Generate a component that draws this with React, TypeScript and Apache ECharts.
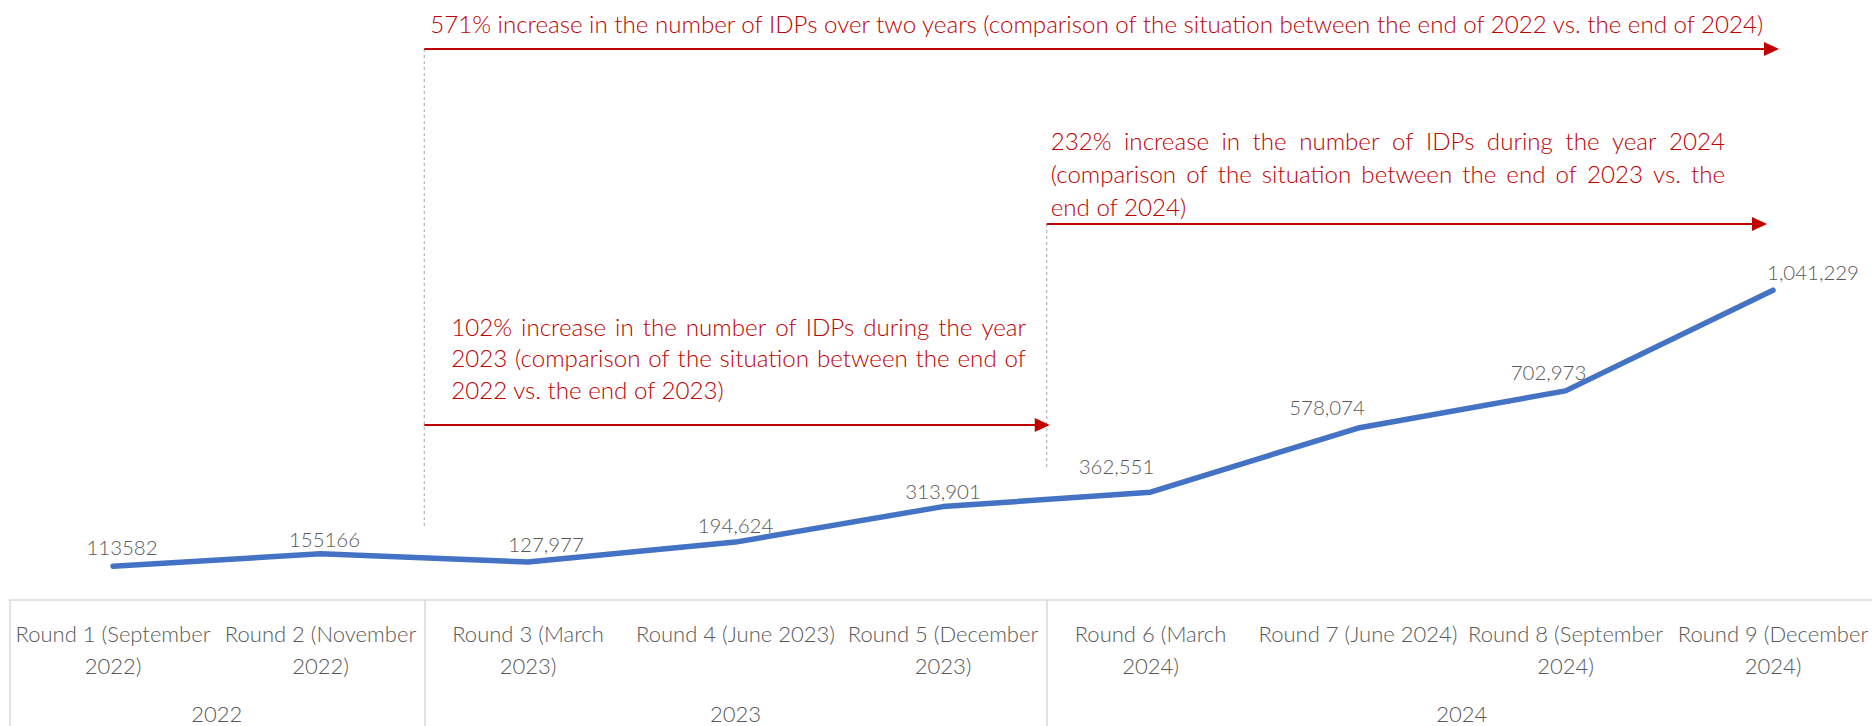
import React, { useEffect, useRef } from 'react';
import * as echarts from 'echarts';

const categories = [
  'Round 1 (September 2022)',
  'Round 2 (November 2022)',
  'Round 3 (March 2023)',
  'Round 4 (June 2023)',
  'Round 5 (December 2023)',
  'Round 6 (March 2024)',
  'Round 7 (June 2024)',
  'Round 8 (September 2024)',
  'Round 9 (December 2024)',
];
const idps = [113582, 155166, 127977, 194624, 313901, 362551, 578074, 702973, 1041229];
const valueLabels = ['113582', '155166', '127,977', '194,624', '313,901', '362,551', '578,074', '702,973', '1,041,229'];
const years = ['2022', '2023', '2024'];
const roundsPerYear = [2, 3, 4];

const noteTwoYears =
  '571% increase in the number of IDPs over two years (comparison of the situation between the end of 2022 vs. the end of 2024)';
const note2024 = [
  '232% increase in the number of IDPs during the year 2024',
  '(comparison of the situation between the end of 2023 vs. the',
  'end of 2024)',
];
const note2023 = [
  '102% increase in the number of IDPs during the year',
  '2023 (comparison of the situation between the end of',
  '2022 vs. the end of 2023)',
];

// label nudges (layout only)
const labelNudges = [
  [9, -3], [4, 1], [18, -2], [0, -1], [0, 0], [-34, -10], [-31, -5], [-17, -3], [40, -2],
];

const FONT = 'Lato';
const WEIGHT = 300;
const RED = '#C00000';
const GRAY = '#595959';
const LINE_GRAY = '#D9D9D9';

let ctx: CanvasRenderingContext2D | null = null;
const measure = (t: string, size: number) => {
  if (!ctx) ctx = document.createElement('canvas').getContext('2d');
  ctx!.font = `${WEIGHT} ${size}px ${FONT}`;
  return ctx!.measureText(t).width;
};
const fitSize = (t: string, w: number) => (100 * w) / measure(t, 100);

export default function App() {
  const ref = useRef<HTMLDivElement>(null);
  useEffect(() => {
    const chart = echarts.init(ref.current!, null, { renderer: 'svg' });
    const catSize = fitSize('Round 1 (September', 195);
    const valSize = fitSize('1,041,229', 92);
    const noteSize = fitSize(noteTwoYears, 1338);

    // year axis: half-band positions
    const nHalf = categories.length * 2;
    const yearData: string[] = new Array(nHalf + 1).fill('');
    const yearBounds: number[] = [0];
    let s = 0;
    years.forEach((y, i) => {
      yearData[s * 2 + roundsPerYear[i]] = y;
      s += roundsPerYear[i];
      yearBounds.push(s * 2);
    });

    const gridRect = { left: 9.25, top: 243, width: 1867.5, height: 357, outerBoundsMode: 'none' };

    chart.setOption({
      animation: false,
      grid: [gridRect, gridRect],
      xAxis: [
        {
          type: 'category',
          gridIndex: 0,
          data: categories,
          boundaryGap: true,
          axisLine: { show: false },
          axisTick: { show: false },
          axisLabel: {
            interval: 0,
            margin: 17,
            color: GRAY,
            fontFamily: FONT,
            fontWeight: WEIGHT,
            fontSize: catSize,
            lineHeight: 32,
            formatter: (v: string) => (measure(v, catSize) > 200 ? v.replace(/ (\S+)$/, '\n$1') : v),
          },
        },
        {
          type: 'category',
          gridIndex: 1,
          data: yearData,
          boundaryGap: false,
          axisLine: { show: true, lineStyle: { color: LINE_GRAY, width: 1.5 } },
          axisTick: {
            show: true,
            length: 140,
            interval: (idx: number) => yearBounds.includes(idx),
            lineStyle: { color: LINE_GRAY, width: 1.5 },
          },
          axisLabel: {
            interval: 0,
            margin: 97,
            color: GRAY,
            fontFamily: FONT,
            fontWeight: WEIGHT,
            fontSize: catSize,
            lineHeight: 32,
          },
        },
      ],
      yAxis: [
        { type: 'value', gridIndex: 0, min: 0, max: 1200000, show: false },
        { type: 'value', gridIndex: 1, min: 0, max: 1, show: false },
      ],
      series: [
        {
          type: 'line',
          xAxisIndex: 0,
          yAxisIndex: 0,
          data: idps.map((v, i) => ({ value: v, label: { offset: labelNudges[i] } })),
          symbol: 'circle',
          symbolSize: 0,
          showSymbol: true,
          itemStyle: { color: '#4472C4' },
          lineStyle: { color: '#4472C4', width: 5.5, cap: 'round', join: 'round' },
          label: {
            show: true,
            position: 'top',
            distance: 6,
            color: GRAY,
            fontFamily: FONT,
            fontWeight: WEIGHT,
            fontSize: valSize,
            formatter: (p: any) => valueLabels[p.dataIndex],
          },
        },
      ],
    });

    // annotation geometry from the axes
    const xAt = (half: number) => chart.convertToPixel({ xAxisIndex: 1 }, half) as number;
    const bound2023 = xAt(yearBounds[1]);
    const bound2024 = xAt(yearBounds[2]);
    const lastX = chart.convertToPixel({ xAxisIndex: 0 }, categories.length - 1) as number;

    const yTop = 49;
    const yMid = 224;
    const yLow = 425;

    const graphics: any[] = [];
    const dashed = (x: number, y1: number, y2: number) =>
      graphics.push({
        type: 'line',
        shape: { x1: x, y1, x2: x, y2 },
        style: { stroke: '#A6A6A6', lineWidth: 1, lineDash: [3, 3] },
        silent: true,
      });
    const arrow = (x0: number, tip: number, y: number) => {
      graphics.push({
        type: 'line',
        shape: { x1: x0, y1: y, x2: tip - 10, y2: y },
        style: { stroke: RED, lineWidth: 2 },
        silent: true,
      });
      graphics.push({
        type: 'polygon',
        shape: { points: [[tip - 15, y - 7], [tip, y], [tip - 15, y + 7]] },
        style: { fill: RED },
        silent: true,
      });
    };
    const text = (t: string, x: number, y: number) =>
      graphics.push({
        type: 'text',
        x,
        y,
        style: {
          text: t,
          fill: RED,
          fontFamily: FONT,
          fontWeight: WEIGHT,
          fontSize: noteSize,
          verticalAlign: 'middle',
          align: 'left',
        },
        silent: true,
      });
    const block = (lines: string[], x0: number, x1: number, ys: number[]) => {
      lines.forEach((ln, li) => {
        if (li === lines.length - 1) {
          text(ln, x0, ys[li]);
          return;
        }
        const words = ln.split(' ');
        const ws = words.map((w) => measure(w, noteSize));
        const total = ws.reduce((a, b) => a + b, 0);
        const gap = Math.max((x1 - x0 - total) / (words.length - 1), measure(' ', noteSize));
        let x = x0;
        words.forEach((w, wi) => {
          text(w, x, ys[li]);
          x += ws[wi] + gap;
        });
      });
    };

    dashed(bound2023, yTop, 527);
    dashed(bound2024, yMid, 470);
    arrow(bound2023, lastX + 6, yTop);
    arrow(bound2024, lastX - 6, yMid);
    arrow(bound2023, bound2024 + 3, yLow);
    text(noteTwoYears, bound2023 + 6, 23);
    block(note2024, bound2024 + 4, 1725, [140, 173, 206]);
    block(note2023, bound2023 + 27, 1026, [326, 357, 389]);

    chart.setOption({ graphic: graphics });

    return () => chart.dispose();
  }, []);
  return <div ref={ref} style={{ position: 'absolute', left: 0, top: 0, width: 1872, height: 726 }} />;
}
